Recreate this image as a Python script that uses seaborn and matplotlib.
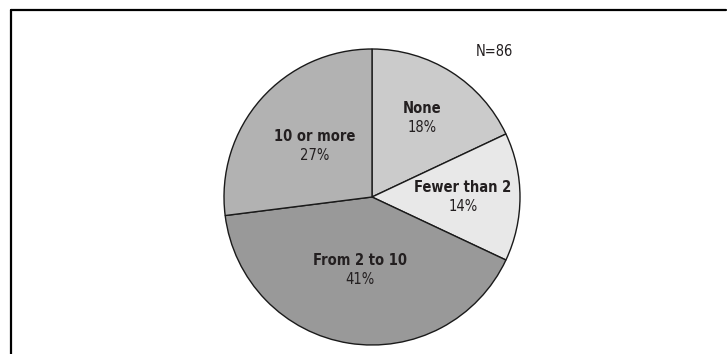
import numpy as np
import matplotlib
matplotlib.use("Agg")
import matplotlib.pyplot as plt
import matplotlib.transforms as mtransforms
from matplotlib.lines import Line2D
import seaborn as sns

# Share of respondents by number of items
categories = ["None", "Fewer than 2", "From 2 to 10", "10 or more"]
shares = [18, 14, 41, 27]
slice_colors = ["#cbcbcb", "#e8e8e8", "#999999", "#b2b2b2"]
label_radius = [0.63, 0.615, 0.50, 0.52]
sample_note = "N=86"

sns.set_theme(style="white")
plt.rcParams["font.family"] = ["DejaVu Sans"]
plt.rcParams["font.stretch"] = "condensed"

W, H = 727, 354
fig = plt.figure(figsize=(W / 100, H / 100), dpi=100)

# Pie axes: circle centred at (372, 197) px with radius 148 px
cx, cy, r = 372, 197, 148
ax = fig.add_axes([(cx - r) / W, (H - cy - r) / H, 2 * r / W, 2 * r / H])

wedges, _ = ax.pie(
    shares,
    colors=slice_colors,
    startangle=90,
    counterclock=False,
    wedgeprops=dict(edgecolor="#1a1a1a", linewidth=1.0),
)
ax.set_xlim(-1, 1)
ax.set_ylim(-1, 1)
ax.set_aspect("equal")
ax.axis("off")

text_color = "#231f20"
fs = 10.5
up = mtransforms.offset_copy(ax.transData, fig=fig, x=0, y=9.5, units="dots")
down = mtransforms.offset_copy(ax.transData, fig=fig, x=0, y=-9.5, units="dots")
for w, name, val, d in zip(wedges, categories, shares, label_radius):
    mid = np.deg2rad((w.theta1 + w.theta2) / 2)
    x, y = d * np.cos(mid), d * np.sin(mid)
    ax.text(x, y, name, transform=up, ha="center", va="center",
            fontsize=fs, fontweight="bold", fontstretch="condensed", color=text_color)
    ax.text(x, y, f"{val}%", transform=down, ha="center", va="center",
            fontsize=fs, fontstretch="condensed", color=text_color)

fig.text(494 / W, 1 - 52 / H, sample_note, ha="center", va="center",
         fontsize=fs, fontstretch="condensed", color=text_color)

# Frame lines along the top and left edges
fig.add_artist(Line2D([11 / W, 726 / W], [1 - 10 / H, 1 - 10 / H],
                      transform=fig.transFigure, color="black", linewidth=1.6))
fig.add_artist(Line2D([11 / W, 11 / W], [1 - 10 / H, 0],
                      transform=fig.transFigure, color="black", linewidth=1.6))

fig.savefig("out.png", dpi=100, facecolor="white")
